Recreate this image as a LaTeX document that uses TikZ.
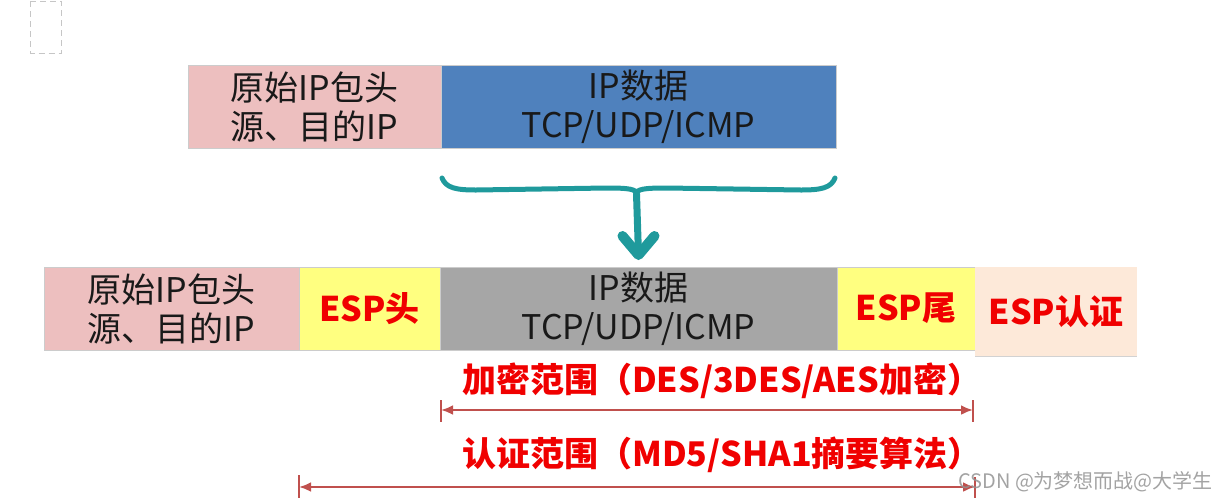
\documentclass[tikz,border=0pt]{standalone}
\usepackage{fontspec}
\setmainfont{Noto Sans CJK SC}
\usetikzlibrary{positioning,arrows.meta,calc}
\definecolor{hdrPink}{HTML}{EDBFBF}
\definecolor{ipBlue}{HTML}{4F81BD}
\definecolor{espYellow}{HTML}{FFFF80}
\definecolor{payGray}{HTML}{A6A6A6}
\definecolor{authPeach}{HTML}{FDE9D9}
\definecolor{espRed}{HTML}{F00000}
\definecolor{rangeRed}{HTML}{C0504D}
\definecolor{braceTeal}{HTML}{1F9A9C}

\begin{document}
\begin{tikzpicture}[
  x=1pt, y=-1pt,
  field/.style={draw=gray!40, line width=0.8pt, minimum height=83pt, inner sep=0pt,
    outer sep=0pt, align=center, text=black!90, font=\fontsize{34}{39}\selectfont},
  espText/.style={text=espRed, font=\fontsize{34}{39}\selectfont\bfseries},
  braceLine/.style={draw=braceTeal, line width=5pt, line cap=round},
  rangeArrow/.style={draw=rangeRed, line width=2.4pt, {Latex[length=12pt,width=10pt]}-{Latex[length=12pt,width=10pt]}},
  tickMark/.style={draw=rangeRed, line width=2.4pt}
]
  \useasboundingbox (0,0) rectangle (1225,499);

  % stray frame top left
  \draw[gray!45, line width=1pt, dash pattern=on 6pt off 4pt] (30.5,1) rectangle (61,53);

  % Original packet
  \node[field, fill=hdrPink, minimum width=253pt, anchor=north west] (origHdr) at (188,65)
    {原始IP包头\\源、目的IP};
  \node[field, fill=ipBlue, minimum width=395pt, right=0pt of origHdr] (ipData)
    {IP数据\\TCP/UDP/ICMP};

  % Brace and arrow
  \coordinate (braceMid) at ($(ipData.south)+(-2,46)$);
  \draw[braceLine] (ipData.south west) ++(1,30) .. controls +(4,10) and +(-20,0) .. ++(34,12)
    -- ($(braceMid)+(-30,-6)$) .. controls +(22,0) and +(0,-5) .. (braceMid);
  \draw[braceLine] (ipData.south east) ++(-1,30) .. controls +(-4,10) and +(20,0) .. ++(-34,12)
    -- ($(braceMid)+(30,-6)$) .. controls +(-22,0) and +(0,-5) .. (braceMid);

  % ESP packet
  \node[field, fill=hdrPink, minimum width=255pt, anchor=north west] (newHdr) at (44,267)
    {原始IP包头\\源、目的IP};
  \node[field, fill=espYellow, minimum width=141pt, right=0pt of newHdr] (espHead)
    {\textcolor{espRed}{\bfseries ESP头}};
  \node[field, fill=payGray, minimum width=397pt, right=0pt of espHead] (payload)
    {IP数据\\TCP/UDP/ICMP};
  \node[field, fill=espYellow, minimum width=138pt, right=0pt of payload] (espTail)
    {\textcolor{espRed}{\bfseries ESP尾}};
  \node[field, fill=authPeach, draw=none, minimum width=162pt, minimum height=89pt,
    anchor=north west] (espAuth) at (espTail.north east)
    {\textcolor{espRed}{\bfseries ESP认证}};
  \draw[gray!35, line width=0.8pt] (espAuth.south west) -- (espAuth.south east);

  \draw[braceLine, line width=7pt] (braceMid) -- ([yshift=12pt]payload.north) coordinate (arrowTip);
  \draw[braceLine, line width=10pt, line join=round] (arrowTip) ++(-16,-19) -- (arrowTip) -- ++(16,-19);

  % Encryption range
  \path (payload.south west) ++(1,60) coordinate (encL);
  \path (espTail.south east) ++(-2,60) coordinate (encR);
  \draw[tickMark] (encL) ++(0,-10) -- ++(0,22);
  \draw[tickMark] (encR) ++(0,-10) -- ++(0,22);
  \draw[rangeArrow] (encL) -- (encR);
  \node[espText, anchor=west, inner sep=0pt] (encLabel) at ($(encL)+(21,-29)$) {加密范围（DES/3DES/AES加密）};

  % Authentication range
  \path (espHead.south west) ++(0,137) coordinate (authL);
  \path (espTail.south east) ++(0,137) coordinate (authR);
  \draw[tickMark] (authL) ++(0,-12) -- ++(0,23);
  \draw[tickMark] (authR) ++(0,-10) -- ++(0,21);
  \draw[rangeArrow] (authL) -- (authR);
  \node[espText, anchor=west, inner sep=0pt] (authLabel) at ($(encLabel.west)+(0,74)$) {认证范围（MD5/SHA1摘要算法）};

  % Watermark
  \node[anchor=west, inner sep=0pt, text=gray!85, opacity=0.85, font=\fontsize{20}{20}\selectfont]
    (mark) at (958,482) {CSDN @为梦想而战@大学生};
\end{tikzpicture}
\end{document}
